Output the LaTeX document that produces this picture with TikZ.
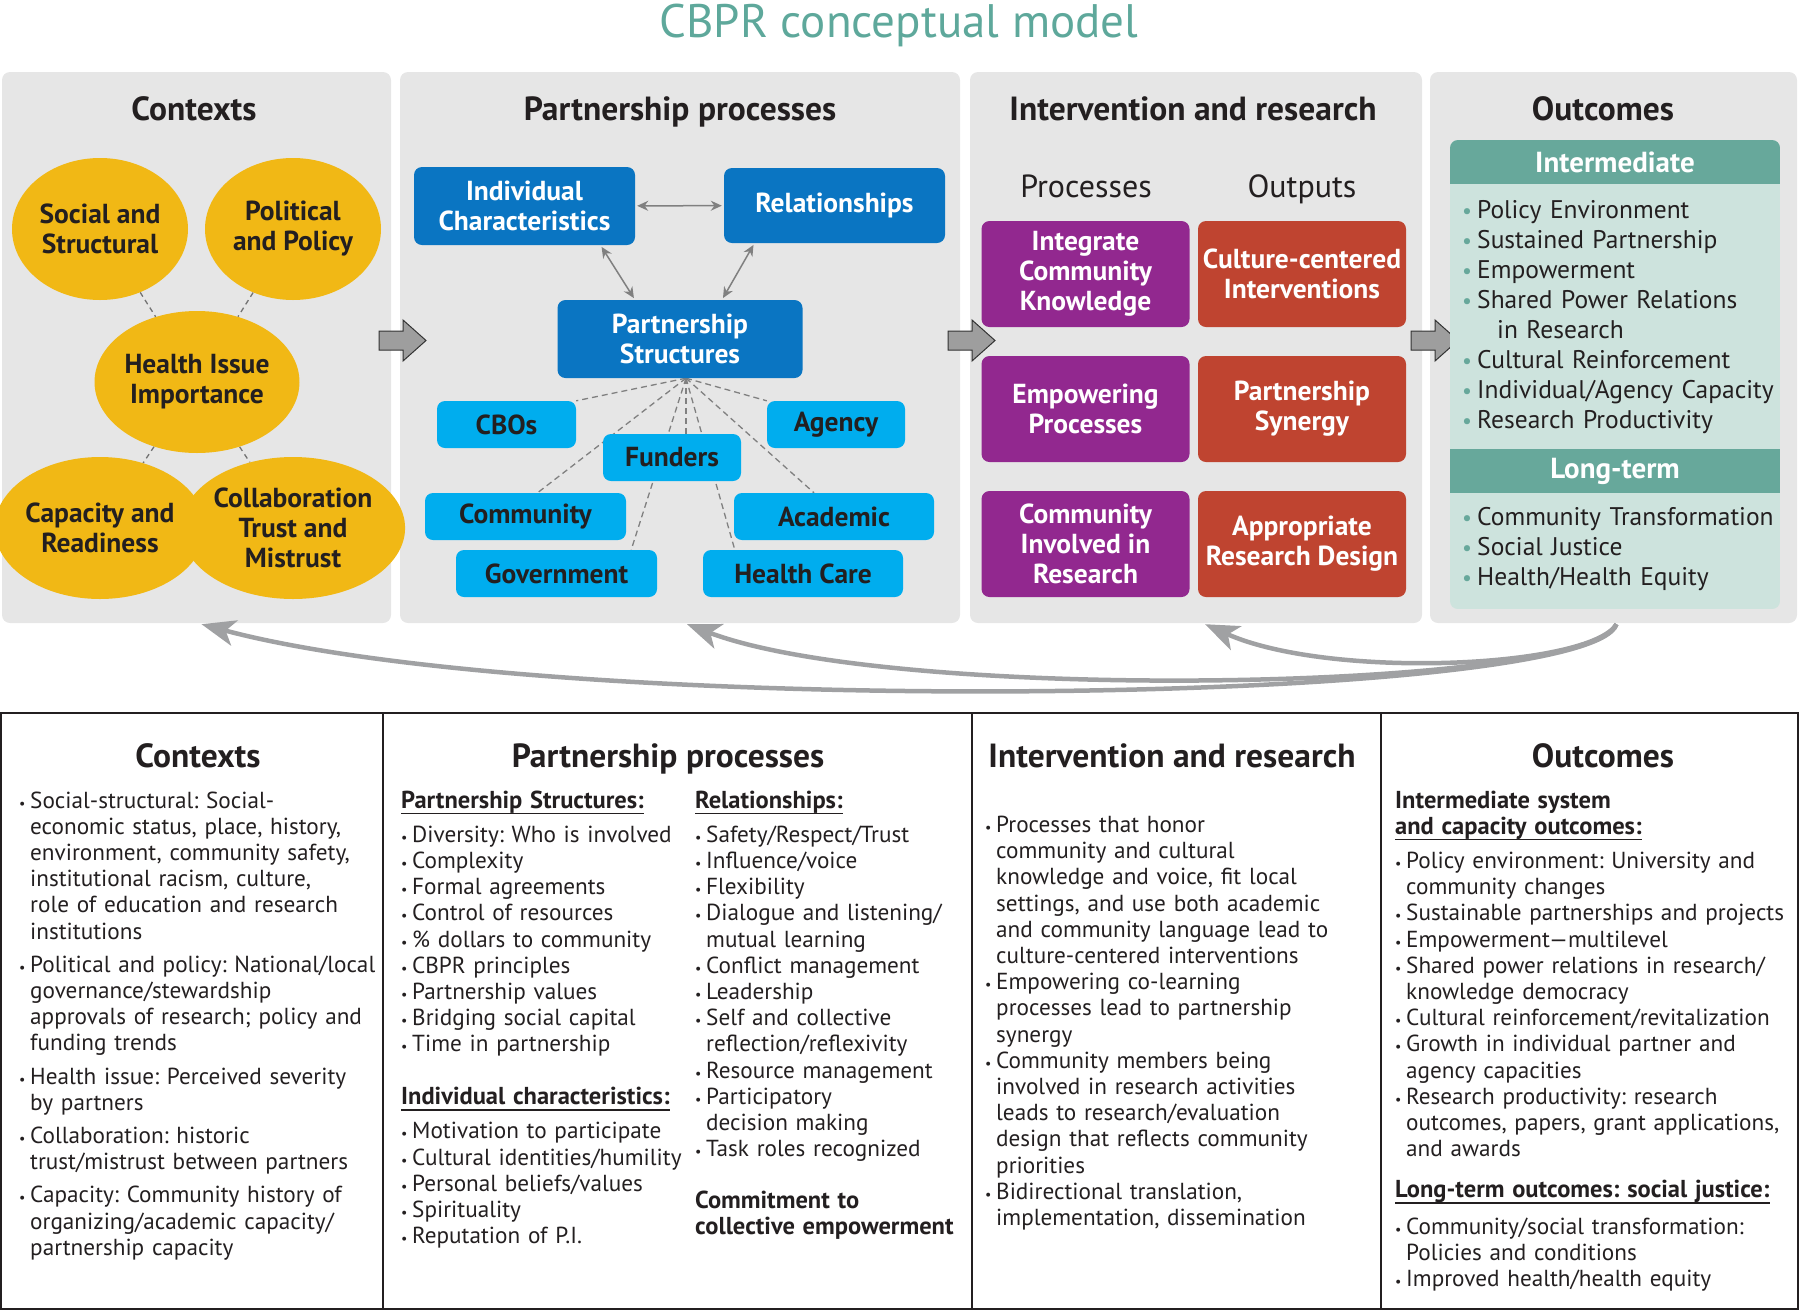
\documentclass[tikz,border=0pt]{standalone}
\usepackage{fontspec}
\setmainfont{PT Sans}
\usetikzlibrary{positioning,shapes.geometric,arrows.meta}
\frenchspacing

\definecolor{cbprTeal}{HTML}{5EA89B}
\definecolor{panelGray}{HTML}{E6E6E6}
\definecolor{ctxGold}{HTML}{F1B815}
\definecolor{procBlue}{HTML}{0A75C2}
\definecolor{partBlue}{HTML}{00ADEE}
\definecolor{irPurple}{HTML}{92288F}
\definecolor{irRed}{HTML}{BF4430}
\definecolor{outTeal}{HTML}{67A89B}
\definecolor{outLight}{HTML}{CDE3DD}
\definecolor{inkDark}{HTML}{231F20}
\definecolor{arrGray}{HTML}{A0A1A3}

\pgfdeclarelayer{back}
\pgfdeclarelayer{mid}
\pgfsetlayers{back,mid,main}

\newcommand{\fsz}[2]{\fontsize{#1}{#2}\selectfont}
\newcommand{\bul}{\hangindent=11pt\hangafter=1\makebox[11pt][l]{\fsz{14}{14}\textbullet}}
\newcommand{\obul}{\makebox[15pt][l]{\fsz{22}{22}\textcolor{outTeal}{\textbullet}}}
\newcommand{\tbold}{\fsz{24.5}{26.2}\bfseries}
\newlength{\subw}
\newcommand{\subhd}[1]{\settowidth{\subw}{\tbold #1}{\tbold #1}\llap{\rule[-6pt]{\subw}{1.5pt}}}

\tikzset{
  titletext/.style={font=\fsz{47}{52}, text=cbprTeal},
  panel/.style={fill=panelGray, rounded corners=8pt, minimum height=551pt, inner sep=0pt},
  panelhead/.style={font=\fsz{33.5}{36}\bfseries, text=inkDark},
  panelsub/.style={font=\fsz{32}{36}, text=inkDark},
  ctxcircle/.style={ellipse, fill=ctxGold, minimum width=176pt, minimum height=142pt, inner sep=0pt,
    align=center, text=inkDark, font=\fsz{27.5}{30}\bfseries},
  ctxlink/.style={draw=black!55, line width=1.3pt, dash pattern=on 5pt off 4pt},
  mainbox/.style={fill=procBlue, rounded corners=8pt, text=white, align=center, font=\fsz{27.5}{30}\bfseries, inner sep=0pt},
  partbox/.style={fill=partBlue, rounded corners=8pt, text=inkDark, font=\fsz{27.5}{30}\bfseries, minimum height=47pt, inner sep=0pt},
  twoway/.style={draw=black!50, line width=1.5pt, arrows={Stealth[length=11pt,width=10pt]-Stealth[length=11pt,width=10pt]},
    shorten <=2pt, shorten >=2pt},
  hublink/.style={draw=black!50, line width=1.3pt, dash pattern=on 6pt off 4pt},
  procbox/.style={fill=irPurple, rounded corners=8pt, text=white, align=center, font=\fsz{27.5}{30}\bfseries,
    minimum width=208pt, minimum height=106pt, inner sep=0pt},
  outputbox/.style={procbox, fill=irRed},
  tealhead/.style={fill=outTeal, minimum width=330pt, minimum height=44pt, inner sep=0pt, text=white,
    font=\fsz{29}{32}\bfseries},
  outlist/.style={text width=318pt, align=left, inner sep=0pt, font=\fsz{25.5}{30}, text=inkDark},
  blockarr/.style={fill=black!38, draw=black!80, line width=1pt, line join=miter},
  fbarrow/.style={draw=arrGray, line width=4.5pt, arrows={-Stealth[length=34pt,width=26pt,inset=9pt]}},
  tblrule/.style={draw=inkDark, line width=2pt},
  tbltext/.style={text width=420pt, align=left, inner sep=0pt, font=\fsz{23.2}{26.2}, text=inkDark}
}

\begin{document}
\begin{tikzpicture}[x=1pt,y=-1pt]
\useasboundingbox (0,0) rectangle (1800,1310);

% title
\node[titletext, anchor=base] (title) at (899,37) {CBPR conceptual model};

% the four panels
\begin{pgfonlayer}{back}
  \node[panel, minimum width=389pt] (pctx) at (196.5,347.5) {};
  \node[panel, minimum width=560pt] (pproc) at (680,347.5) {};
  \node[panel, minimum width=452pt] (pint) at (1196,347.5) {};
  \node[panel, minimum width=367pt] (pout) at (1613.5,347.5) {};
\end{pgfonlayer}

\node[panelhead, anchor=base] (hctx) at (194,120) {Contexts};
\node[panelhead, anchor=base] (hproc) at (680,120) {Partnership processes};
\node[panelhead, anchor=base] (hint) at (1193,120) {Intervention and research};
\node[panelhead, anchor=base] (hout) at (1603,120) {Outcomes};

% contexts
\node[ctxcircle] (soc) at (100,229) {Social and\\Structural};
\node[ctxcircle] (pol) at (293,229) {Political\\and Policy};
\node[ctxcircle] (hii) at (197,382) {Health Issue\\Importance};
\node[ctxcircle] (cap) at (100,528) {Capacity and\\Readiness};
\node[ctxcircle] (col) at (293,528) {Collaboration\\Trust and\\Mistrust};
\begin{pgfonlayer}{mid}
  \foreach \a/\b in {soc/hii, pol/hii, hii/cap, hii/col}
    \draw[ctxlink] (\a) -- (\b);
\end{pgfonlayer}

% partnership processes
\node[mainbox, minimum width=221pt, minimum height=78pt] (ind) at (524.5,206) {Individual\\Characteristics};
\node[mainbox, minimum width=221pt, minimum height=75pt] (rel) at (834.5,205.5) {Relationships};
\node[mainbox, minimum width=245pt, minimum height=78pt] (ps) at (680,339) {Partnership\\Structures};

\node[partbox, minimum width=139pt] (cbo) at (506.5,424.5) {CBOs};
\node[partbox, minimum width=138pt] (agency) at (836,424.5) {Agency};
\node[partbox, minimum width=138pt] (fund) at (672,457.5) {Funders};
\node[partbox, minimum width=201pt] (com) at (525.5,516.5) {Community};
\node[partbox, minimum width=200pt] (acad) at (834,516.5) {Academic};
\node[partbox, minimum width=201pt] (gov) at (556.5,573.5) {Government};
\node[partbox, minimum width=200pt] (hc) at (803,573.5) {Health Care};

\coordinate (hub) at ([xshift=6pt]ps.south);
\begin{pgfonlayer}{mid}
  \draw[hublink] (hub) -- (cbo.north east);
  \draw[hublink] (hub) -- (agency.north west);
  \draw[hublink] (hub) -- (hub |- fund.north);
  \draw[hublink] (hub) -- ([xshift=12pt]com.north);
  \draw[hublink] (hub) -- ([xshift=-26pt]gov.north east);
  \draw[hublink] (hub) -- ([xshift=-20pt]acad.north);
  \draw[hublink] (hub) -- ([xshift=32pt]hc.north west);
\end{pgfonlayer}

\draw[twoway] (ind) -- (rel);
\draw[twoway] ([xshift=76pt]ind.south) -- ([xshift=-45pt]ps.north);
\draw[twoway] ([xshift=-80pt]rel.south) -- ([xshift=42pt]ps.north);

% block arrows between panels
\foreach \ax in {379,948,1411}
  \draw[blockarr] (\ax,331) -- ++(24,0) -- ++(0,-11) -- ++(23,20.5) -- ++(-23,20.5) -- ++(0,-11) -- ++(-24,0) -- cycle;

% intervention and research
\node[panelsub, anchor=base] (hprc) at (1086,197) {Processes};
\node[panelsub, anchor=base] (hopt) at (1302,197) {Outputs};

\node[procbox] (ick) at (1085.5,274) {Integrate\\Community\\Knowledge};
\node[procbox] (emp) at (1085.5,409) {Empowering\\Processes};
\node[procbox] (cir) at (1085.5,544) {Community\\Involved in\\Research};
\node[outputbox] (cci) at (1302,274) {Culture-centered\\Interventions};
\node[outputbox] (syn) at (1302,409) {Partnership\\Synergy};
\node[outputbox] (ard) at (1302,544) {Appropriate\\Research Design};

% outcomes
\begin{scope}
  \clip[rounded corners=8pt] (1450,140) rectangle (1780,609);
  \fill[outLight] (1450,140) rectangle (1780,609);
  \node[tealhead] (hmid) at (1615,162) {Intermediate};
  \node[tealhead] (hlong) at (1615,471) {Long-term};
\end{scope}
\node[outlist, anchor=base west] (midlist) at (1462,218) {\obul Policy Environment\par
  \obul Sustained Partnership\par
  \obul Empowerment\par
  \obul Shared Power Relations\par
  \hspace*{35pt}in Research\par
  \obul Cultural Reinforcement\par
  \obul Individual/Agency Capacity\par
  \obul Research Productivity\par};
\node[outlist, anchor=base west] (longlist) at (1462,525) {\obul Community Transformation\par
  \obul Social Justice\par
  \obul Health/Health Equity\par};

% feedback arrows
\coordinate (fb) at ([xshift=3pt,yshift=-1pt]pout.south);
\draw[fbarrow] (fb) .. controls (1590,705) and (560,720) .. ([xshift=5pt,yshift=-1pt]pctx.south);
\draw[fbarrow] (fb) .. controls (1590,690) and (900,705) .. ([xshift=7pt,yshift=-1pt]pproc.south);
\draw[fbarrow] (fb) .. controls (1590,668) and (1330,680) .. ([xshift=9pt,yshift=-1pt]pint.south);

% table below
\draw[tblrule] (1,713) rectangle (1798,1309);
\foreach \cx in {383,972,1381}
  \draw[tblrule] (\cx,713) -- (\cx,1309);

\node[panelhead, anchor=base] (tctx) at (198,767) {Contexts};
\node[panelhead, anchor=base] (tproc) at (668,767) {Partnership processes};
\node[panelhead, anchor=base] (tint) at (1172,767) {Intervention and research};
\node[panelhead, anchor=base] (tout) at (1603,767) {Outcomes};

\node[tbltext, anchor=base west] (ctxtext) at (19,808) {\setlength{\parskip}{7pt}%
  \bul Social-structural: Social-\newline economic status, place, history,\newline environment, community safety,\newline institutional racism, culture,\newline role of education and research\newline institutions\par
  \bul Political and policy: National/local\newline governance/stewardship\newline approvals of research; policy and\newline funding trends\par
  \bul Health issue: Perceived severity\newline by partners\par
  \bul Collaboration: historic\newline trust/mistrust between partners\par
  \bul Capacity: Community history of\newline organizing/academic capacity/\newline partnership capacity\par};

\node[tbltext, anchor=base west] (strtext) at (401,808) {\subhd{Partnership Structures:}\par\vspace{8pt}
  \bul Diversity: Who is involved\par
  \bul Complexity\par
  \bul Formal agreements\par
  \bul Control of resources\par
  \bul \% dollars to community\par
  \bul CBPR principles\par
  \bul Partnership values\par
  \bul Bridging social capital\par
  \bul Time in partnership\par\vspace{26.6pt}
  \subhd{Individual characteristics:}\par\vspace{8pt}
  \bul Motivation to participate\par
  \bul Cultural identities/humility\par
  \bul Personal beliefs/values\par
  \bul Spirituality\par
  \bul Reputation of P.I.\par};

\node[tbltext, anchor=base west] (reltext) at (695,808) {\subhd{Relationships:}\par\vspace{8pt}
  \bul Safety/Respect/Trust\par
  \bul Influence/voice\par
  \bul Flexibility\par
  \bul Dialogue and listening/\newline mutual learning\par
  \bul Conflict management\par
  \bul Leadership\par
  \bul Self and collective\newline reflection/reflexivity\par
  \bul Resource management\par
  \bul Participatory\newline decision making\par
  \bul Task roles recognized\par\vspace{25.5pt}
  {\tbold Commitment to\newline collective empowerment}\par};

\node[tbltext, anchor=base west] (irtext) at (985,832.5) {%
  \bul Processes that honor\newline community and cultural\newline knowledge and voice, fit local\newline settings, and use both academic\newline and community language lead to\newline culture-centered interventions\par
  \bul Empowering co-learning\newline processes lead to partnership\newline synergy\par
  \bul Community members being\newline involved in research activities\newline leads to research/evaluation\newline design that reflects community\newline priorities\par
  \bul Bidirectional translation,\newline implementation, dissemination\par};

\node[tbltext, anchor=base west] (outtext) at (1395,808) {{\tbold Intermediate system}\newline
  \subhd{and capacity outcomes:}\par\vspace{8pt}
  \bul Policy environment: University and\newline community changes\par
  \bul Sustainable partnerships and projects\par
  \bul Empowerment---multilevel\par
  \bul Shared power relations in research/\newline knowledge democracy\par
  \bul Cultural reinforcement/revitalization\par
  \bul Growth in individual partner and\newline agency capacities\par
  \bul Research productivity: research\newline outcomes, papers, grant applications,\newline and awards\par\vspace{15pt}
  \subhd{Long-term outcomes: social justice:}\par\vspace{10.5pt}
  \bul Community/social transformation:\newline Policies and conditions\par
  \bul Improved health/health equity\par};
\end{tikzpicture}
\end{document}
